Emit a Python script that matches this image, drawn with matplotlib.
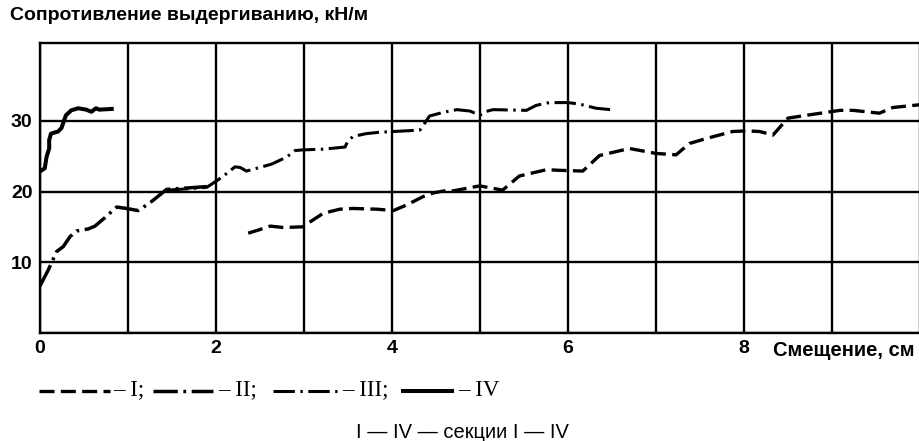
import matplotlib
matplotlib.use("Agg")
import matplotlib.pyplot as plt
from matplotlib.lines import Line2D

# --- данные (смещение, см -> сопротивление, кН/м) ---
x_I = [2.37, 2.5, 2.62, 2.77, 2.99, 3.11, 3.22, 3.41, 3.56, 3.83, 4.02, 4.17, 4.36, 4.47,
       4.6, 4.7, 5.0, 5.26, 5.45, 5.76, 5.91, 6.17, 6.36, 6.7, 7.0, 7.23, 7.38, 7.57, 7.87,
       8.03, 8.18, 8.33, 8.5, 8.71, 9.09, 9.24, 9.54, 9.69, 10.0]
y_I = [14.1, 14.6, 15.1, 14.9, 15.0, 16.0, 16.9, 17.5, 17.6, 17.5, 17.3, 18.1, 19.3, 19.8,
       20.1, 20.1, 20.8, 20.2, 22.2, 23.1, 23.0, 22.9, 25.1, 26.1, 25.4, 25.2, 26.8, 27.5, 28.5,
       28.6, 28.5, 28.0, 30.4, 30.8, 31.5, 31.5, 31.1, 31.9, 32.3]

x_II = [0.0, 0.10, 0.195, 0.27, 0.346, 0.42, 0.554, 0.63, 0.743, 0.876, 0.99, 1.12, 1.254,
        1.444, 1.67, 1.9]
y_II = [6.5, 8.9, 11.5, 12.2, 13.6, 14.4, 14.7, 15.1, 16.3, 17.8, 17.6, 17.3, 18.4,
        20.3, 20.5, 20.7]

x_III = [1.45, 1.7, 1.9, 2.01, 2.09, 2.22, 2.28, 2.35, 2.5, 2.64, 2.81, 2.9, 2.99, 3.22, 3.47,
         3.5, 3.56, 3.71, 3.86, 4.32, 4.36, 4.43, 4.58, 4.74, 4.89, 5.0, 5.06, 5.15, 5.53,
         5.64, 5.79, 6.0, 6.13, 6.32, 6.49]
y_III = [20.2, 20.4, 20.6, 21.5, 22.2, 23.5, 23.4, 22.9, 23.4, 23.9, 24.9, 25.8, 25.9, 26.0, 26.3,
         27.1, 27.8, 28.2, 28.4, 28.7, 29.4, 30.7, 31.2, 31.6, 31.4, 30.8, 31.3, 31.6, 31.5,
         32.2, 32.6, 32.6, 32.4, 31.8, 31.6]

x_IV = [0.0, 0.06, 0.08, 0.11, 0.11, 0.13, 0.21, 0.25, 0.28, 0.30, 0.36, 0.44, 0.53, 0.59,
        0.64, 0.68, 0.82]
y_IV = [22.8, 23.3, 24.9, 26.1, 27.3, 28.2, 28.5, 29.0, 30.1, 30.8, 31.5, 31.8, 31.6, 31.3,
        31.8, 31.6, 31.7]

x_ticks = list(range(0, 11))
x_tick_labels = ["0", "", "2", "", "4", "", "6", "", "8", "", ""]
y_ticks = [0, 10, 20, 30]
y_tick_labels = ["", "10", "20", "30"]

W, H = 920, 441
fig = plt.figure(figsize=(W / 100, H / 100), dpi=100)
ax = fig.add_axes([39.5 / W, 1 - 332.7 / H, 1 - 39.5 / W, (332.7 - 43.3) / H])

sans = "Liberation Sans"
serif = "Liberation Serif"

# стили линий
st_I = dict(color="black", lw=2.4, linestyle=(0, (4.5, 1.9)), solid_capstyle="butt")
st_II = dict(color="black", lw=2.5, linestyle=(0, (7, 1.6, 0.8, 1.6)))
st_III = dict(color="black", lw=2.2, linestyle=(0, (7, 1.8, 0.8, 1.8)))
st_IV = dict(color="black", lw=2.9, linestyle="-", solid_joinstyle="round")

ax.plot(x_I, y_I, **st_I)
ax.plot(x_II, y_II, **st_II)
ax.plot(x_III, y_III, **st_III)
ax.plot(x_IV, y_IV, **st_IV)

ax.set_xlim(0, 10)
ax.set_ylim(0, 41)
ax.set_xticks(x_ticks)
ax.set_xticklabels(x_tick_labels, fontsize=14, fontfamily=sans, fontweight="bold")
ax.set_yticks(y_ticks)
ax.set_yticklabels(y_tick_labels, fontsize=14, fontfamily=sans, fontweight="bold")
ax.tick_params(length=0, pad=5)
ax.grid(True, color="black", lw=1.7)
for s in ["left", "bottom", "top"]:
    ax.spines[s].set_linewidth(1.7)
ax.spines["right"].set_visible(False)

# подписи осей
fig.text(10 / W, 1 - 16 / H, "Сопротивление выдергиванию, кН/м", fontsize=14,
         fontfamily=sans, fontweight="bold", va="center", ha="left")
fig.text(773 / W, 1 - 350 / H, "Смещение, см", fontsize=14.5, fontfamily=sans,
         fontweight="bold", va="center", ha="left")

# легенда под графиком (вручную, как в оригинале)
ly = 1 - 391 / H
samples = [((39, 110), st_I, 113, "– I;"),
           ((153, 213), st_II, 218, "– II;"),
           ((273, 337), st_III, 342, "– III;"),
           ((403, 452), st_IV, 458, "– IV")]
for (x0, x1), st, tx, lab in samples:
    fig.add_artist(Line2D([x0 / W, x1 / W], [ly, ly], transform=fig.transFigure, **st))
    fig.text(tx / W, ly + 0.002, lab, fontsize=16.5, fontfamily=serif, va="center", ha="left")

fig.text(462 / W, 1 - 433 / H, "I — IV — секции I — IV", fontsize=14.5, fontfamily=sans,
         va="center", ha="center")

fig.savefig("out.png", dpi=100)
